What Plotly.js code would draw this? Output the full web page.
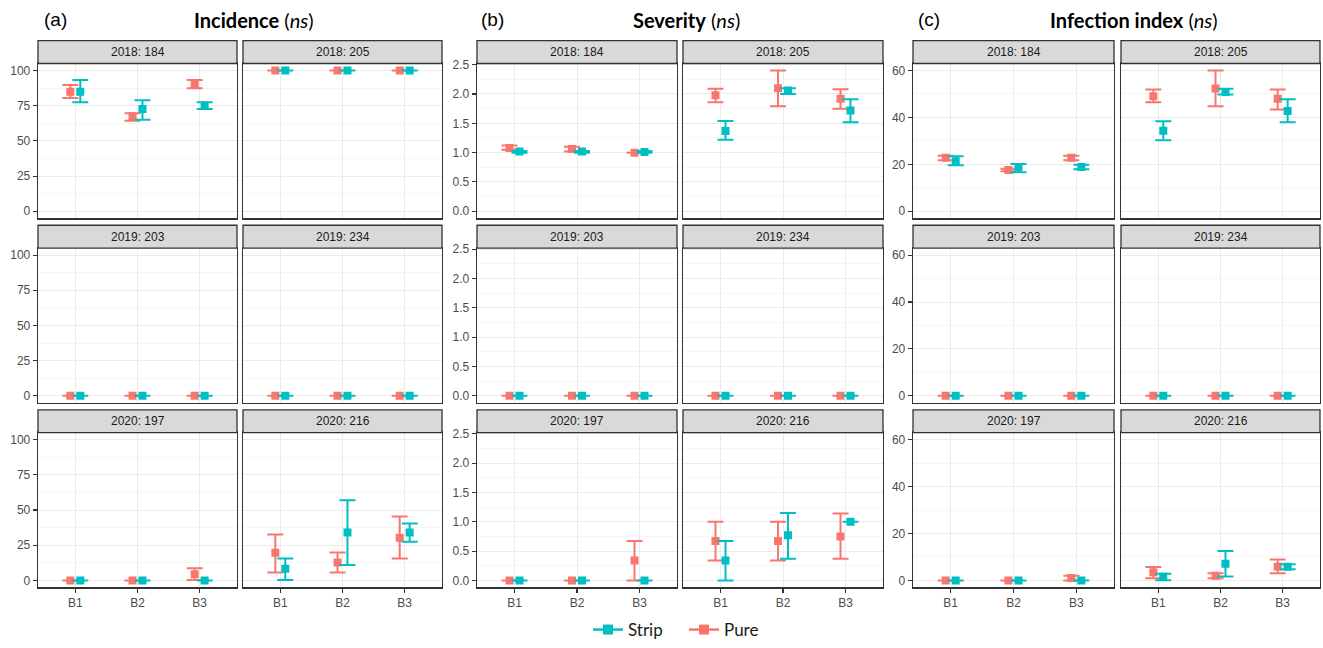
<!DOCTYPE html>
<html>
<head>
<meta charset="utf-8">
<script src="https://cdn.plot.ly/plotly-3.0.1.min.js"></script>
<style>html,body{margin:0;padding:0;background:#fff;}#chart{width:1323px;height:648px;}</style>
</head>
<body>
<div id="chart"></div>
<script>
// ---------- data ----------
const facets = ['2018: 184', '2018: 205', '2019: 203', '2019: 234', '2020: 197', '2020: 216'];
const blocks = ['B1', 'B2', 'B3'];
const treatments = ['Pure', 'Strip'];

// Incidence (%)
const incPureMean  = [[85, 67.5, 89.8], [100, 100, 100], [0, 0, 0], [0, 0, 0], [0, 0, 4.4], [19.6, 12.8, 30.3]];
const incPureHi    = [[89.8, 69.6, 93.3], [100, 100, 100], [0, 0, 0], [0, 0, 0], [0, 0, 8.6], [32.6, 19.9, 45.4]];
const incPureLo    = [[80.5, 64.4, 87.4], [100, 100, 100], [0, 0, 0], [0, 0, 0], [0, 0, 0.3], [5.7, 5.7, 15.6]];
const incStripMean = [[85, 72.7, 75], [100, 100, 100], [0, 0, 0], [0, 0, 0], [0, 0, 0], [8.3, 34, 34]];
const incStripHi   = [[93.3, 78.9, 77.4], [100, 100, 100], [0, 0, 0], [0, 0, 0], [0, 0, 0], [15.6, 56.9, 40.4]];
const incStripLo   = [[77.4, 65.1, 72.7], [100, 100, 100], [0, 0, 0], [0, 0, 0], [0, 0, 0], [0.3, 10.9, 27.4]];

// Severity
const sevPureMean  = [[1.08, 1.06, 1.0], [1.98, 2.10, 1.92], [0, 0, 0], [0, 0, 0], [0, 0, 0.34], [0.67, 0.67, 0.75]];
const sevPureHi    = [[1.12, 1.10, 1.0], [2.09, 2.40, 2.08], [0, 0, 0], [0, 0, 0], [0, 0, 0.67], [1.0, 1.0, 1.14]];
const sevPureLo    = [[1.05, 1.02, 1.0], [1.86, 1.79, 1.75], [0, 0, 0], [0, 0, 0], [0, 0, 0], [0.34, 0.34, 0.37]];
const sevStripMean = [[1.02, 1.02, 1.01], [1.37, 2.06, 1.72], [0, 0, 0], [0, 0, 0], [0, 0, 0], [0.34, 0.77, 1.0]];
const sevStripHi   = [[1.03, 1.03, 1.03], [1.54, 2.10, 1.91], [0, 0, 0], [0, 0, 0], [0, 0, 0], [0.67, 1.15, 1.0]];
const sevStripLo   = [[1.0, 1.0, 1.0], [1.22, 2.00, 1.52], [0, 0, 0], [0, 0, 0], [0, 0, 0], [0, 0.37, 1.0]];

// Infection index
const infPureMean  = [[22.8, 17.6, 22.8], [49, 52.3, 48], [0, 0, 0], [0, 0, 0], [0, 0, 1.0], [3.5, 2.0, 5.8]];
const infPureHi    = [[23.7, 18.1, 23.7], [51.9, 60, 51.9], [0, 0, 0], [0, 0, 0], [0, 0, 2.0], [5.7, 3.1, 8.9]];
const infPureLo    = [[21.8, 17.1, 21.8], [46.5, 44.8, 43.4], [0, 0, 0], [0, 0, 0], [0, 0, 0], [0.9, 0.9, 3.1]];
const infStripMean = [[21.3, 18.8, 18.9], [34.3, 50.9, 42.8], [0, 0, 0], [0, 0, 0], [0, 0, 0], [1.6, 7.1, 5.8]];
const infStripHi   = [[23.5, 20.2, 19.8], [38.4, 52.2, 47.8], [0, 0, 0], [0, 0, 0], [0, 0, 0], [2.8, 12.5, 6.9]];
const infStripLo   = [[19.6, 16.6, 17.9], [30.3, 49.8, 38.0], [0, 0, 0], [0, 0, 0], [0, 0, 0], [0.1, 1.7, 4.8]];

const panelLabels = ['(a)', '(b)', '(c)'];
const panelTitles = ['<b>Incidence</b> (<i>ns</i>)', '<b>Severity</b> (<i>ns</i>)', '<b>Infection index</b> (<i>ns</i>)'];

// ---------- styling / layout geometry ----------
const W = 1323, H = 648;
const colorPure = '#F8766D', colorStrip = '#00BFC4';
const groups = [
  {pure: [incPureMean, incPureHi, incPureLo], strip: [incStripMean, incStripHi, incStripLo],
   range: [-5, 105], dtick: 25, minor: 12.5, fmt: '', cols: [[38, 237], [243, 442]], labelX: 42, titleX: 254},
  {pure: [sevPureMean, sevPureHi, sevPureLo], strip: [sevStripMean, sevStripHi, sevStripLo],
   range: [-0.12, 2.52], dtick: 0.5, minor: 0.25, fmt: '.1f', cols: [[477, 677], [683, 883]], labelX: 479, titleX: 687},
  {pure: [infPureMean, infPureHi, infPureLo], strip: [infStripMean, infStripHi, infStripLo],
   range: [-3, 63], dtick: 20, minor: 10, fmt: '', cols: [[913, 1114], [1121, 1320]], labelX: 916, titleX: 1134}
];
const rowsPlot = [[64, 220], [250, 406], [436, 592]];
const rowsStrip = [[41, 64], [227, 250], [413, 436]];
const dodge = 0.08;
const tickFont = {family: 'Liberation Sans, Arial, sans-serif', size: 12, color: '#4D4D4D'};
const px2x = v => v / W;
const px2y = v => 1 - v / H;

const traces = [];
const layout = {
  width: W, height: H,
  margin: {l: 0, r: 0, t: 0, b: 0},
  paper_bgcolor: '#ffffff', plot_bgcolor: '#ffffff',
  showlegend: true,
  legend: {orientation: 'h', x: 588 / W, xanchor: 'left', y: px2y(635), yanchor: 'middle',
           font: {family: 'Lato, Open Sans, sans-serif', size: 17, color: '#1A1A1A'},
           entrywidth: 51, entrywidthmode: 'pixels', traceorder: 'normal'},
  shapes: [], annotations: []
};

const xIdx = blocks.map((b, i) => i + 1);

groups.forEach((g, gi) => {
  for (let r = 0; r < 3; r++) {
    for (let c = 0; c < 2; c++) {
      const f = r * 2 + c;
      const n = gi * 6 + f + 1;
      const xa = 'xaxis' + (n === 1 ? '' : n), ya = 'yaxis' + (n === 1 ? '' : n);
      const xr = 'x' + (n === 1 ? '' : n), yr = 'y' + (n === 1 ? '' : n);
      const col = g.cols[c];
      layout[xa] = {
        domain: [px2x(col[0]), px2x(col[1])], anchor: yr, range: [0.4, 3.6],
        tickvals: xIdx, ticktext: blocks, showticklabels: r === 2,
        ticks: r === 2 ? 'outside' : '', ticklen: 4, tickwidth: 1.1, tickcolor: '#333333',
        tickfont: tickFont, showgrid: true, gridcolor: '#EBEBEB', gridwidth: 1,
        zeroline: false, showline: true, mirror: true, linecolor: '#333333', linewidth: 1.3, fixedrange: true
      };
      layout[ya] = {
        domain: [px2y(rowsPlot[r][1]), px2y(rowsPlot[r][0])], anchor: xr, range: g.range,
        tick0: 0, dtick: g.dtick, tickformat: g.fmt, showticklabels: c === 0,
        ticks: c === 0 ? 'outside' : '', ticklen: 4, tickwidth: 1.1, tickcolor: '#333333',
        tickfont: tickFont, showgrid: true, gridcolor: '#EBEBEB', gridwidth: 1,
        minor: {tick0: 0, dtick: g.minor, showgrid: true, gridcolor: '#F0F0F0', gridwidth: 0.6, ticks: ''},
        zeroline: false, showline: true, mirror: true, linecolor: '#333333', linewidth: 1.3, fixedrange: true
      };
      // strip header
      layout.shapes.push({type: 'rect', xref: 'paper', yref: 'paper',
        x0: px2x(col[0]), x1: px2x(col[1]), y0: px2y(rowsStrip[r][1]), y1: px2y(rowsStrip[r][0]),
        fillcolor: '#D9D9D9', line: {color: '#333333', width: 1.3}, layer: 'above'});
      layout.annotations.push({xref: 'paper', yref: 'paper', showarrow: false,
        x: px2x((col[0] + col[1]) / 2), y: px2y((rowsStrip[r][0] + rowsStrip[r][1]) / 2),
        xanchor: 'center', yanchor: 'middle', text: facets[f],
        font: {family: 'Liberation Sans, Arial, sans-serif', size: 12, color: '#1A1A1A'}});

      [['pure', colorPure, -dodge, 'Pure'], ['strip', colorStrip, dodge, 'Strip']].forEach(([key, color, off, name]) => {
        const [mean, hi, lo] = g[key];
        const m = mean[f], h = hi[f], l = lo[f];
        traces.push({
          type: 'scatter', mode: 'markers', name: name, showlegend: false,
          xaxis: xr, yaxis: yr,
          x: xIdx.map(v => v + off), y: m,
          marker: {symbol: 'square', size: 8, color: color},
          error_y: {type: 'data', symmetric: false,
            array: m.map((v, i) => h[i] - v), arrayminus: m.map((v, i) => v - l[i]),
            color: color, thickness: 2, width: 8},
          hoverinfo: 'skip'
        });
      });
    }
  }
  layout.annotations.push({xref: 'paper', yref: 'paper', showarrow: false,
    x: px2x(g.labelX), y: px2y(20), xanchor: 'left', yanchor: 'middle', text: panelLabels[gi],
    font: {family: 'Liberation Sans, Arial, sans-serif', size: 19, color: '#000000'}});
  layout.annotations.push({xref: 'paper', yref: 'paper', showarrow: false,
    x: px2x(g.titleX), y: px2y(20), xanchor: 'center', yanchor: 'middle', text: panelTitles[gi],
    font: {family: 'Lato, Open Sans, sans-serif', size: 20, color: '#000000'}});
});

// legend entries (Strip first, as in the reference)
[['Strip', colorStrip], ['Pure', colorPure]].forEach(([name, color]) => {
  traces.push({type: 'scatter', mode: 'lines+markers', name: name, x: [null], y: [null],
    xaxis: 'x', yaxis: 'y', showlegend: true,
    line: {color: color, width: 2.5}, marker: {symbol: 'square', size: 10, color: color}});
});

Plotly.newPlot('chart', traces, layout, {displayModeBar: false, staticPlot: true});
</script>
</body>
</html>
